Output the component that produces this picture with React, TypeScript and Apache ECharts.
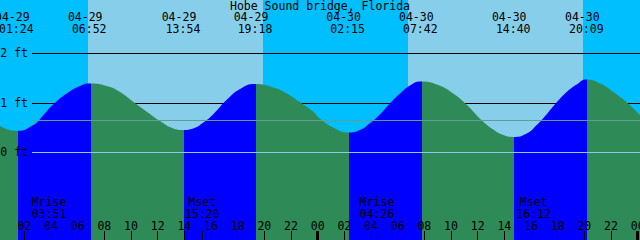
import React, { useEffect, useRef } from "react";
import * as echarts from "echarts";

const chartTitle = "Hobe Sound bridge, Florida";

// time axis in hours from 04-29 00:00
const T_START = 0.175;
const T_END = 48.175;

const tideHours = [
  0.175, 1.4, 2.67, 3.42, 4.17, 5.18, 6.18, 6.867, 8.18, 9.18, 10.17, 11.18, 12.18, 13.17,
  13.9, 14.67, 15.42, 16.17, 17.18, 18.18, 19.3, 20.67, 21.68, 22.68, 23.67, 24.18, 25.17,
  26.25, 27.18, 27.93, 28.68, 29.43, 30.18, 30.93, 31.7, 32.93, 34.17, 35.18, 36.18, 37.17,
  37.92, 38.667, 39.68, 40.43, 41.18, 41.93, 42.68, 43.43, 44.15, 45.18, 46.17, 47.18, 48.175,
];
const tideFeet = [
  0.53, 0.43, 0.55, 0.75, 0.97, 1.19, 1.34, 1.39, 1.34, 1.22, 1.02, 0.82, 0.63, 0.48,
  0.45, 0.48, 0.6, 0.77, 1.06, 1.28, 1.38, 1.31, 1.19, 1.01, 0.82, 0.68, 0.5,
  0.4, 0.45, 0.59, 0.77, 0.99, 1.19, 1.35, 1.43, 1.37, 1.19, 0.96, 0.68, 0.46,
  0.35, 0.31, 0.38, 0.55, 0.77, 1.01, 1.22, 1.37, 1.47, 1.39, 1.22, 1.01, 0.75,
];

const extremeHours = [1.4, 6.867, 13.9, 19.3, 26.25, 31.7, 38.667, 44.15];
const extremeDates = ["04-29", "04-29", "04-29", "04-29", "04-30", "04-30", "04-30", "04-30"];
const extremeTimes = ["01:24", "06:52", "13:54", "19:18", "02:15", "07:42", "14:40", "20:09"];

const floodStarts = [1.525, 13.975, 26.37, 38.73];
const floodEnds = [6.98, 19.375, 31.8, 44.22];

const sunrises = [6.775, 30.775];
const sunsets = [19.9, 43.9];

const moonHours = [3.85, 15.333, 28.433, 40.2];
const moonNames = ["Mrise", "Mset", "Mrise", "Mset"];
const moonTimes = ["03:51", "15:20", "04:26", "16:12"];

const hourTicks = [0, 2, 4, 6, 8, 10, 12, 14, 16, 18, 20, 22, 24, 26, 28, 30, 32, 34, 36, 38, 40, 42, 44, 46, 48];
const hourLabels = ["00", "02", "04", "06", "08", "10", "12", "14", "16", "18", "20", "22", "00", "02", "04", "06", "08", "10", "12", "14", "16", "18", "20", "22", "00"];
const midnightTicks = [24, 48];

const depthMarks = [2, 1];
const depthLabels = ["2 ft", "1 ft"];
const datumLevel = 0;
const datumLabel = "0 ft";
const mslLevel = 0.646;

const FONT = "'DejaVu Sans Mono', monospace";
const FS = 11.5;
const NIGHT = "#00BFFF";
const DAY = "#87CEEB";
const FLOOD = "#0000FF";
const EBB = "#2E8B57";
const LINE_START = 2.575;

function nearestIndex(arr: number[], v: number) {
  let best = 0;
  for (let i = 1; i < arr.length; i++) if (Math.abs(arr[i] - v) < Math.abs(arr[best] - v)) best = i;
  return best;
}

export default function App() {
  const ref = useRef<HTMLDivElement>(null);
  useEffect(() => {
    if (!ref.current) return;
    const chart = echarts.init(ref.current, undefined, { renderer: "svg" });

    const txt = { fontFamily: FONT, fontSize: FS, color: "#000" };

    const skyAreas: any[] = [];
    const nightStarts = [T_START, ...sunsets];
    const nightEnds = [...sunrises, T_END];
    nightStarts.forEach((s, i) =>
      skyAreas.push([{ xAxis: s, itemStyle: { color: NIGHT } }, { xAxis: nightEnds[i] }])
    );
    sunrises.forEach((s, i) =>
      skyAreas.push([{ xAxis: s, itemStyle: { color: DAY } }, { xAxis: sunsets[i] }])
    );

    const pieces: any[] = [];
    pieces.push({ lt: floodStarts[0], color: EBB });
    floodStarts.forEach((s, i) => {
      pieces.push({ gte: s, lt: floodEnds[i], color: FLOOD });
      const next = i + 1 < floodStarts.length ? floodStarts[i + 1] : undefined;
      if (next !== undefined) pieces.push({ gte: floodEnds[i], lt: next, color: EBB });
      else pieces.push({ gte: floodEnds[i], color: EBB });
    });

    const baseX = {
      type: "value",
      min: T_START,
      max: T_END,
      z: 20,
      splitLine: { show: false },
      axisLine: { show: false, onZero: false },
    };

    const option: any = {
      animation: false,
      title: {
        text: chartTitle,
        left: "center",
        top: 0,
        padding: 0,
        textStyle: { ...txt, fontWeight: "normal" },
      },
      grid: { left: 0, right: 0, top: 0, bottom: 0, outerBoundsMode: "none", containLabel: false },
      xAxis: [
        { ...baseX, show: false },
        {
          ...baseX,
          position: "top",
          axisTick: { show: false },
          axisLabel: {
            inside: true,
            margin: 11,
            customValues: extremeHours,
            hideOverlap: false,
            formatter: (v: number) => {
              const i = nearestIndex(extremeHours, v);
              return `{d|${extremeDates[i]}}\n{t|${extremeTimes[i]}}`;
            },
            rich: {
              d: { ...txt, lineHeight: 12, padding: [0, 8, 0, 0] },
              t: { ...txt, lineHeight: 12 },
            },
          },
        },
        {
          ...baseX,
          position: "bottom",
          axisTick: {
            inside: true,
            length: 9,
            customValues: hourTicks,
            lineStyle: { color: "#000", width: 1 },
          },
          axisLabel: {
            inside: true,
            margin: 8,
            customValues: hourTicks,
            hideOverlap: false,
            ...txt,
            formatter: (v: number) => hourLabels[nearestIndex(hourTicks, v)],
          },
        },
        {
          ...baseX,
          position: "bottom",
          axisTick: {
            inside: true,
            length: 9,
            customValues: moonHours,
            lineStyle: { color: "#000", width: 1 },
          },
          axisLabel: {
            inside: true,
            margin: 20,
            customValues: moonHours,
            hideOverlap: false,
            ...txt,
            lineHeight: 12,
            formatter: (v: number) => {
              const i = nearestIndex(moonHours, v);
              return `${moonNames[i]}\n${moonTimes[i]}`;
            },
          },
        },
        {
          ...baseX,
          position: "bottom",
          axisTick: {
            inside: true,
            length: 9,
            customValues: midnightTicks,
            lineStyle: { color: "#000", width: 3 },
          },
          axisLabel: { show: false },
        },
      ],
      yAxis: { type: "value", min: -1.772, max: 3.077, show: false },
      visualMap: {
        type: "piecewise",
        show: false,
        dimension: 0,
        seriesIndex: 1,
        pieces,
      },
      series: [
        {
          type: "line",
          data: [],
          z: 1,
          markArea: { silent: true, z: 1, data: skyAreas, itemStyle: { opacity: 1 } },
          markLine: {
            silent: true,
            z: 2,
            symbol: "none",
            animation: false,
            data: depthMarks.map((d, i) => [
              {
                coord: [LINE_START, d],
                lineStyle: { color: "#000", width: 1, type: "solid" },
                label: { show: true, position: "start", distance: 4, formatter: depthLabels[i], ...txt },
              },
              { coord: [T_END, d] },
            ]),
          },
        },
        {
          type: "line",
          z: 3,
          data: tideHours.map((h, i) => [h, tideFeet[i]]),
          showSymbol: false,
          smooth: 0.5,
          lineStyle: { width: 0 },
          areaStyle: { opacity: 1, origin: "start" },
          silent: true,
        },
        {
          type: "line",
          data: [],
          z: 4,
          markLine: {
            silent: true,
            z: 4,
            symbol: "none",
            animation: false,
            data: [
              [
                {
                  coord: [LINE_START, datumLevel],
                  lineStyle: { color: "#8CCBE6", width: 1, type: "solid" },
                  label: { show: true, position: "start", distance: 4, formatter: datumLabel, ...txt },
                },
                { coord: [T_END, datumLevel] },
              ],
              [
                {
                  coord: [LINE_START, mslLevel],
                  lineStyle: { color: "#5F9F8F", width: 1, type: "solid" },
                  label: { show: false },
                },
                { coord: [T_END, mslLevel] },
              ],
            ],
          },
        },
      ],
    };

    chart.setOption(option);
    return () => chart.dispose();
  }, []);

  return (
    <div
      ref={ref}
      style={{ width: 640, height: 240, position: "absolute", left: 0, top: 0 }}
    />
  );
}
